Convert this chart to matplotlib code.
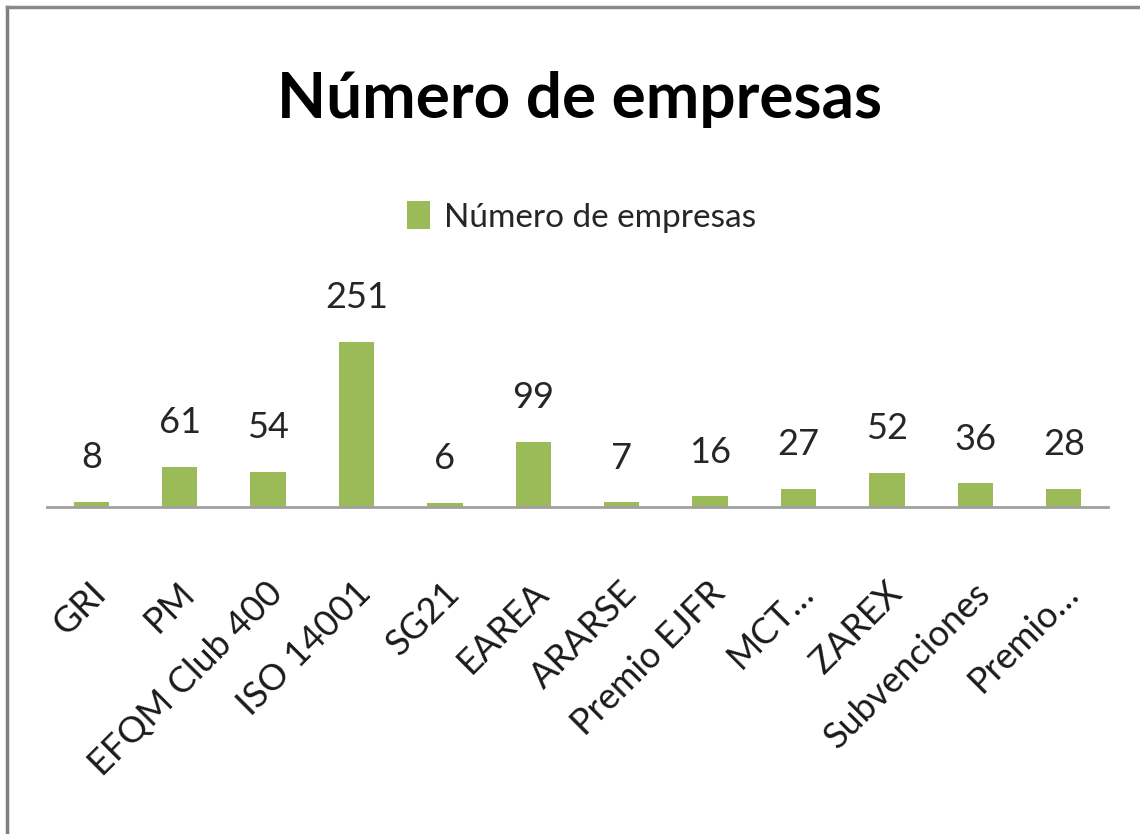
import matplotlib
matplotlib.use("Agg")
import matplotlib.pyplot as plt
import matplotlib.transforms as mtransforms
from matplotlib.lines import Line2D
from matplotlib.patches import Patch

categories = ["GRI", "PM", "EFQM Club 400", "ISO 14001", "SG21", "EAREA",
              "ARARSE", "Premio EJFR", "MCT\u2026", "ZAREX", "Subvenciones", "Premio\u2026"]
values = [8, 61, 54, 251, 6, 99, 7, 16, 27, 52, 36, 28]
series_name = "Número de empresas"
title = "Número de empresas"

green = "#9BBB59"
font = ["Lato", "DejaVu Sans"]

fig = plt.figure(figsize=(11.4, 8.34), dpi=100)
ax = fig.add_axes([47/1140, 1-507/834, (1108-47)/1140, (507-310)/834])

x = list(range(len(categories)))
ax.bar(x, values, width=0.4, color=green, zorder=2)
ax.set_xlim(-0.5, len(categories)-0.5)
ax.set_ylim(0, 300)

for xi, v in zip(x, values):
    ax.annotate(str(v), (xi, v), xytext=(0, 20), textcoords="offset points",
                ha="center", va="bottom", fontsize=26, family=font, color="#262626")

for s in ["left", "right", "top"]:
    ax.spines[s].set_visible(False)
ax.spines["bottom"].set_color("#A0A0A0")
ax.spines["bottom"].set_linewidth(2)
ax.set_yticks([])
ax.set_xticks(x)
ax.set_xticklabels(categories, rotation=45, ha="right", va="top", rotation_mode="anchor",
                   fontsize=26, family=font, color="#1a1a1a")
ax.tick_params(axis="x", length=0, pad=0)
offset = mtransforms.ScaledTranslation(-2/100, -69/100, fig.dpi_scale_trans)
for lbl in ax.get_xticklabels():
    lbl.set_transform(lbl.get_transform() + offset)

fig.text(0.508, 1-100/834, title, ha="center", va="center", fontsize=46,
         fontweight="bold", family=font, color="#000000")

leg = fig.legend(handles=[Patch(facecolor=green, label=series_name)],
                 loc="center", bbox_to_anchor=(0.51, 1-217/834), frameon=False,
                 prop={"family": font, "size": 24}, handlelength=0.7, handleheight=0.9,
                 handletextpad=0.4)
for t in leg.get_texts():
    t.set_color("#262626")

# outer border (left and top visible)
fig.add_artist(Line2D([6.5/1140, 6.5/1140], [0, 1-6.5/834], color="#7f7f7f", lw=2.5,
                      transform=fig.transFigure))
fig.add_artist(Line2D([6.5/1140, 1], [1-6.5/834, 1-6.5/834], color="#8a8a8a", lw=2.5,
                      transform=fig.transFigure))

fig.savefig("out.png", dpi=100)
